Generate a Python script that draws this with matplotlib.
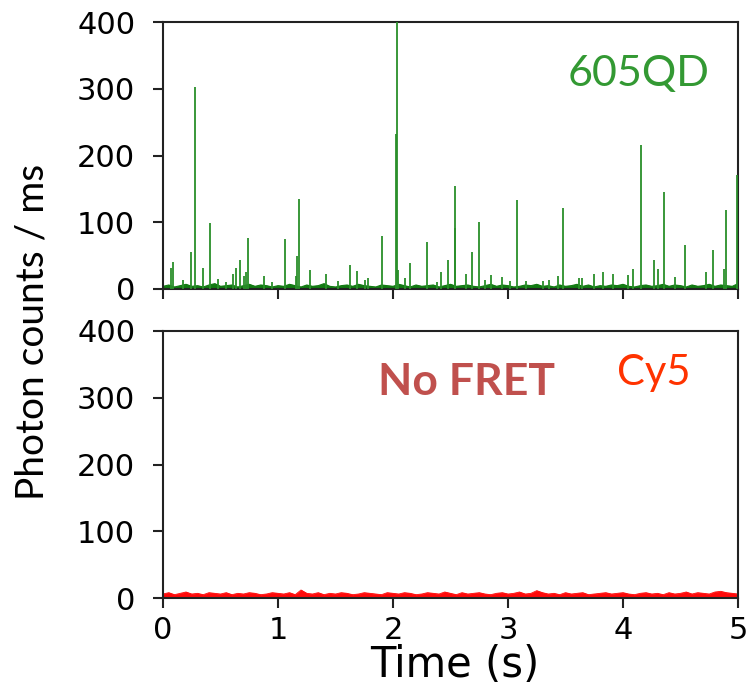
import matplotlib
matplotlib.use("Agg")
import matplotlib.pyplot as plt
import numpy as np

# ---------------- data ----------------
x_ticks = [0, 1, 2, 3, 4, 5]
y_ticks = [0, 100, 200, 300, 400]

# green (605QD) burst events: time (s) and height (counts/ms)
spike_t = [0.067, 0.09, 0.17, 0.24, 0.28, 0.35, 0.41, 0.478, 0.55, 0.606,
           0.635, 0.667, 0.70, 0.725, 0.742, 0.88, 0.95, 1.061, 1.157, 1.168,
           1.183, 1.278, 1.415, 1.52, 1.629, 1.687, 1.76, 1.78, 1.907, 2.026,
           2.032, 2.04, 2.10, 2.145, 2.30, 2.38, 2.42, 2.475, 2.536, 2.542,
           2.635, 2.687, 2.748, 2.80, 2.852, 2.95, 3.02, 3.078, 3.16, 3.30,
           3.36, 3.435, 3.475, 3.62, 3.64, 3.748, 3.826, 3.913, 4.046, 4.09,
           4.157, 4.27, 4.30, 4.354, 4.455, 4.54, 4.72, 4.78, 4.88, 4.893,
           4.989]
spike_h = [31, 40, 13, 55, 302, 31, 99, 15, 10, 22,
           31, 44, 19, 25, 76, 20, 10, 75, 20, 50,
           135, 28, 22, 12, 36, 27, 14, 16, 79, 232,
           405, 28, 16, 39, 70, 10, 25, 43, 91, 155,
           22, 55, 100, 14, 21, 18, 12, 134, 12, 12,
           14, 20, 121, 16, 16, 22, 26, 22, 21, 30,
           216, 43, 30, 146, 18, 66, 25, 58, 30, 119,
           171]

# baselines sampled every 50 ms
base_t = [i * 0.05 for i in range(101)]
green_base = [4, 6, 3, 5, 7, 4, 5, 3, 6, 8, 4, 5, 6, 3, 5, 7, 4, 6, 5, 3,
              5, 4, 7, 5, 3, 6, 4, 5, 8, 4, 3, 5, 6, 4, 7, 5, 4, 3, 6, 5,
              4, 7, 5, 3, 6, 4, 5, 6, 3, 5, 7, 4, 5, 6, 4, 3, 5, 7, 4, 6,
              5, 3, 4, 6, 5, 7, 4, 5, 3, 6, 4, 5, 7, 4, 6, 3, 5, 4, 6, 5,
              7, 4, 3, 5, 6, 4, 5, 7, 4, 6, 5, 3, 6, 4, 5, 7, 4, 6, 5, 4, 8]
red_base = [6, 8, 5, 7, 9, 6, 7, 5, 8, 7, 6, 8, 5, 7, 6, 8, 7, 5, 6, 8,
            7, 6, 8, 5, 12, 7, 6, 8, 5, 7, 6, 8, 7, 5, 6, 8, 7, 6, 5, 8,
            7, 6, 8, 7, 5, 6, 8, 7, 6, 9, 7, 5, 8, 6, 7, 8, 6, 5, 7, 8,
            6, 7, 9, 6, 7, 11, 8, 6, 7, 5, 8, 6, 7, 8, 5, 6, 7, 8, 6, 7,
            8, 6, 5, 7, 8, 6, 7, 5, 8, 6, 7, 9, 6, 8, 7, 6, 9, 10, 8, 7, 6]

# ---------------- figure ----------------
W, H = 751, 687
fig = plt.figure(figsize=(W / 100, H / 100), dpi=100)

def ax_rect(l, t, r, b):
    return [l / W, 1 - b / H, (r - l) / W, (b - t) / H]

ax1 = fig.add_axes(ax_rect(163, 22, 738, 289))
ax2 = fig.add_axes(ax_rect(163, 331, 738, 598))

green = "#2a8f2a"
red = "#ff0a0a"

ax1.fill_between(base_t, 0, green_base, color="#117a11", lw=0.8, zorder=2)
ax1.plot(base_t, green_base, color="#117a11", lw=0.8, zorder=2)
ax1.vlines(spike_t, 0, spike_h, color=green, lw=1.3, zorder=3)

ax2.fill_between(base_t, 0, red_base, color=red, lw=0.6, zorder=2)
ax2.plot(base_t, red_base, color=red, lw=0.6, zorder=2)

for ax in (ax1, ax2):
    ax.set_xlim(0, 5)
    ax.set_ylim(0, 400)
    ax.set_xticks(x_ticks)
    ax.set_yticks(y_ticks)
    for s in ax.spines.values():
        s.set_linewidth(1.5)
        s.set_color("#222222")
    ax.tick_params(axis="both", direction="out", length=7, width=1.5,
                   color="#222222", labelsize=22)
    ax.tick_params(axis="y", pad=13)
    ax.tick_params(axis="x", pad=6)

ax1.set_xticklabels([])
ax2.set_xticklabels([str(v) for v in x_ticks])
ax1.set_yticklabels([str(v) for v in y_ticks])
ax2.set_yticklabels([str(v) for v in y_ticks])

ax1.text(3.52, 304, "605QD", color="#339933", fontsize=31,
         family=["Lato", "DejaVu Sans"], ha="left", va="baseline")
ax2.text(1.87, 304, "No FRET", color="#C0504D", fontsize=32, fontweight="bold",
         family=["Lato", "DejaVu Sans"], ha="left", va="baseline")
ax2.text(3.95, 319, "Cy5", color="#FF3300", fontsize=30,
         family=["Lato", "DejaVu Sans"], ha="left", va="baseline")

fig.text(33 / W, 1 - 332 / H, "Photon counts / ms", rotation=90,
         fontsize=28, family=["Lato", "DejaVu Sans"], ha="center", va="center")
fig.text(455 / W, 1 - 665 / H, "Time (s)", fontsize=30,
         ha="center", va="center")

fig.savefig("out.png", dpi=100)
